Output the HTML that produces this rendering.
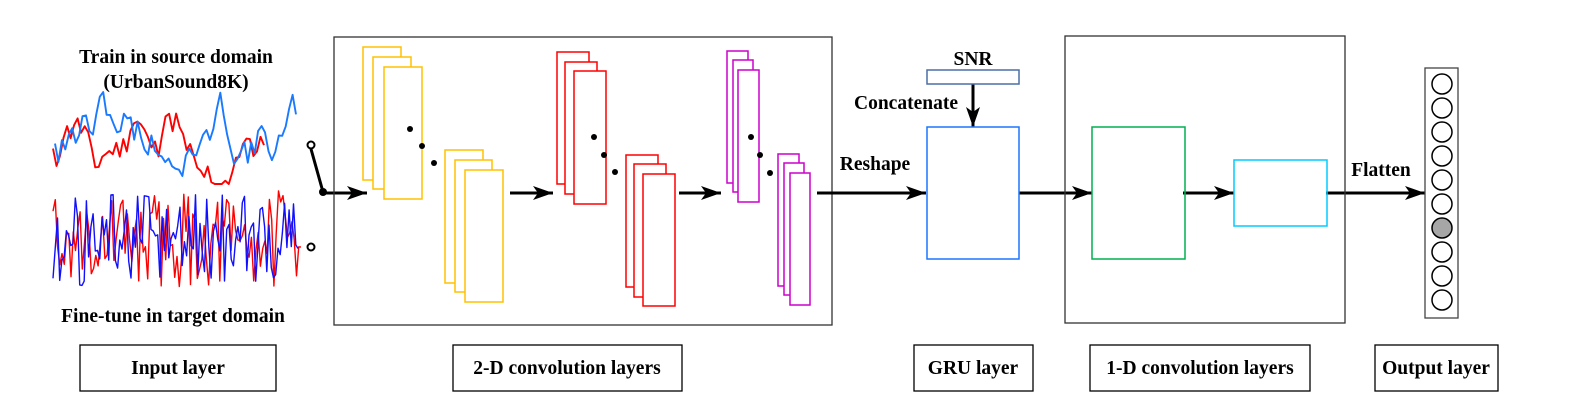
<!DOCTYPE html>
<html><head><meta charset="utf-8"><style>
html,body{margin:0;padding:0;background:#fff;}
svg{display:block;font-family:"Liberation Serif",serif;font-weight:bold;}
</style></head><body>
<svg id="s" width="1579" height="412" viewBox="0 0 1579 412" xmlns="http://www.w3.org/2000/svg">
<defs>
<marker id="a2" viewBox="0 0 20 14" markerWidth="20" markerHeight="14" refX="20" refY="7" orient="auto" markerUnits="userSpaceOnUse"><path d="M0,0 L20,7 L0,14 L5,7 Z" fill="#000"/></marker></defs>
<g font-size="19.5" text-anchor="middle" fill="#000">
<text x="176" y="63">Train in source domain</text>
<text x="176" y="88">(UrbanSound8K)</text>
<text x="173" y="322">Fine-tune in target domain</text>
</g>
<g id="waves" fill="none"></g>
<circle cx="311" cy="145" r="3.5" fill="#fff" stroke="#000" stroke-width="2"/>
<circle cx="311" cy="247" r="3.5" fill="#fff" stroke="#000" stroke-width="2"/>
<line x1="311" y1="149" x2="323" y2="192" stroke="#000" stroke-width="3"/>
<circle cx="323" cy="192" r="4" fill="#000"/>
<line x1="323" y1="193" x2="367" y2="193" stroke="#000" stroke-width="3" marker-end="url(#a2)"/>
<rect x="334" y="37" width="498" height="288" fill="none" stroke="#333" stroke-width="1.3"/>
<g fill="#fff" stroke="#ffc000" stroke-width="1.5">
<rect x="363" y="47" width="38" height="133"/><rect x="373" y="57" width="38" height="132"/><rect x="384" y="67" width="38" height="132"/>
<rect x="445" y="150" width="38" height="133"/><rect x="455" y="160" width="37" height="132"/><rect x="465" y="170" width="38" height="132"/>
</g>
<g fill="#fff" stroke="#ff0000" stroke-width="1.5">
<rect x="557" y="52" width="32" height="132"/><rect x="565" y="62" width="32" height="132"/><rect x="574" y="71" width="32" height="133"/>
<rect x="626" y="155" width="32" height="132"/><rect x="634" y="164" width="32" height="133"/><rect x="643" y="174" width="32" height="132"/>
</g>
<g fill="#fff" stroke="#cc00cc" stroke-width="1.5">
<rect x="727" y="51" width="21" height="132"/><rect x="733" y="60" width="20" height="132"/><rect x="738" y="70" width="21" height="132"/>
<rect x="778" y="154" width="21" height="132"/><rect x="784" y="163" width="20" height="132"/><rect x="790" y="173" width="20" height="132"/>
</g>
<g fill="#000">
<circle cx="410" cy="129" r="3"/><circle cx="422" cy="146" r="3"/><circle cx="434" cy="163" r="3"/>
<circle cx="594" cy="137" r="3"/><circle cx="604" cy="155" r="3"/><circle cx="615" cy="172" r="3"/>
<circle cx="751" cy="137" r="3"/><circle cx="760" cy="155" r="3"/><circle cx="770" cy="173" r="3"/>
</g>
<g stroke="#000" stroke-width="3" fill="none">
<line x1="510" y1="193" x2="553" y2="193" marker-end="url(#a2)"/>
<line x1="679" y1="193" x2="721" y2="193" marker-end="url(#a2)"/>
<line x1="817" y1="193" x2="926" y2="193" marker-end="url(#a2)"/>
<line x1="973" y1="84" x2="973" y2="127" marker-end="url(#a2)"/>
<line x1="1019" y1="193" x2="1092" y2="193" marker-end="url(#a2)"/>
<line x1="1183" y1="193" x2="1234" y2="193" marker-end="url(#a2)"/>
<line x1="1326" y1="193" x2="1425" y2="193" marker-end="url(#a2)"/>
</g>
<rect x="927" y="70" width="92" height="14" fill="none" stroke="#4a6fa5" stroke-width="1.5"/>
<rect x="927" y="127" width="92" height="132" fill="none" stroke="#1a75ff" stroke-width="1.5"/>
<rect x="1065" y="36" width="280" height="287" fill="none" stroke="#333" stroke-width="1.3"/>
<rect x="1092" y="127" width="93" height="132" fill="none" stroke="#00b050" stroke-width="1.5"/>
<rect x="1234" y="160" width="93" height="66" fill="none" stroke="#00ccff" stroke-width="1.5"/>
<rect x="1425" y="68" width="33" height="250" fill="#fff" stroke="#444" stroke-width="1.3"/>
<g id="circ" stroke="#000" stroke-width="1.5"></g>
<g font-size="19.5" fill="#000">
<text x="973" y="65" text-anchor="middle">SNR</text>
<text x="906" y="109" text-anchor="middle">Concatenate</text>
<text x="875" y="170" text-anchor="middle">Reshape</text>
<text x="1381" y="176" text-anchor="middle">Flatten</text>
</g>
<g fill="#fff" stroke="#000" stroke-width="1.3">
<rect x="80" y="345" width="196" height="46"/>
<rect x="453" y="345" width="229" height="46"/>
<rect x="914" y="345" width="119" height="46"/>
<rect x="1090" y="345" width="220" height="46"/>
<rect x="1375" y="345" width="123" height="46"/>
</g>
<g font-size="19.5" text-anchor="middle" fill="#000">
<text x="178" y="374">Input layer</text>
<text x="567" y="374">2-D convolution layers</text>
<text x="973" y="374">GRU layer</text>
<text x="1200" y="374">1-D convolution layers</text>
<text x="1436" y="374">Output layer</text>
</g>
</svg>
<script>
(function(){
var ns="http://www.w3.org/2000/svg";
var seed=11;function r(){seed=(seed*9301+49297)%233280;return seed/233280;}
var w=document.getElementById("waves");
function smooth(x0,x1,yc,amp,n,col,sw){
 var pts=[],v=0;
 for(var i=0;i<=n;i++){var x=x0+(x1-x0)*i/n;
  v+= (r()-0.5)*amp*1.1; v*=0.95; if(v>amp)v=amp; if(v<-amp)v=-amp;
  pts.push(x.toFixed(1)+","+(yc+v).toFixed(1));}
 add(pts,col,sw);}
function noise(x0,x1,yc,amp,n,col,sw){
 var pts=[];
 for(var i=0;i<=n;i++){var x=x0+(x1-x0)*i/n;var v=(r()-0.5)*2;v=v*Math.abs(v)*0.4+v*0.6;
  pts.push(x.toFixed(1)+","+(yc+v*amp).toFixed(1));}
 add(pts,col,sw);}
function add(pts,col,sw){var p=document.createElementNS(ns,"polyline");p.setAttribute("points",pts.join(" "));
 p.setAttribute("stroke",col);p.setAttribute("stroke-width",sw);p.setAttribute("stroke-linejoin","round");w.appendChild(p);}
smooth(53,264,142,42,60,"#ff0000",1.9);
smooth(55,296,134,42,70,"#1a7aff",1.9);
noise(53,301,240,50,110,"#ff0000",1.4);
noise(53,298,240,46,110,"#1010ff",1.4);
var c=document.getElementById("circ");
for(var i=0;i<10;i++){var e=document.createElementNS(ns,"circle");
 e.setAttribute("cx",1442);e.setAttribute("cy",84+24*i);e.setAttribute("r",10);
 e.setAttribute("fill",i==6?"#a6a6a6":"#fff");c.appendChild(e);}
})();
</script>
</body></html>
